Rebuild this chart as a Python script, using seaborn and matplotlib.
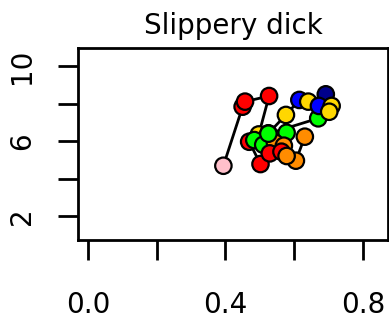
import matplotlib
matplotlib.use("Agg")
import matplotlib.pyplot as plt
import seaborn as sns
import pandas as pd

# Data
pt_x = [0.394, 0.450, 0.457, 0.527, 0.497, 0.502, 0.469, 0.525, 0.576, 0.615,
        0.670, 0.631, 0.605, 0.641, 0.692, 0.672, 0.709, 0.702, 0.578, 0.484,
        0.510, 0.544, 0.570, 0.529, 0.563, 0.578, 0.525]
pt_y = [4.68, 7.83, 8.10, 8.40, 6.35, 4.77, 5.96, 6.41, 7.39, 8.19,
        7.21, 6.23, 4.95, 8.10, 8.49, 7.87, 7.87, 7.56, 6.44, 6.05,
        5.80, 5.91, 5.75, 5.34, 5.43, 5.20, 6.39]
pt_col = ["pink", "red", "red", "red", "gold", "red", "red", "green", "gold", "blue",
          "green", "orange", "orange", "gold", "navy", "blue", "gold", "gold", "green", "green",
          "green", "orange", "orange", "red", "red", "orange", "green"]
pt_group = ["A", "A", "B", "B", "B", "C", "C", "D", "D", "D",
            "E", "F", "F", "-", "-", "-", "-", "-", "-", "-",
            "-", "-", "-", "-", "-", "-", "E"]

x_ticks = [0.0, 0.2, 0.4, 0.6, 0.8]
x_labels = ["0.0", "", "0.4", "", "0.8"]
y_ticks = [2, 4, 6, 8, 10]
y_labels = ["2", "", "6", "", "10"]
title = "Slippery dick"

palette = {"pink": "#FFC0CB", "red": "#FF0000", "gold": "#FFD700", "green": "#00FF00",
           "blue": "#0000FF", "navy": "#00008B", "orange": "#FF8C00"}

df = pd.DataFrame({"x": pt_x, "y": pt_y, "col": pt_col, "grp": pt_group,
                   "order": range(len(pt_x))})
lines = df[df["grp"] != "-"]

sns.set_style("white")
plt.rcParams["font.family"] = ["DejaVu Sans"]

fig = plt.figure(figsize=(3.89, 3.18), dpi=100)
ax = fig.add_axes([78 / 389, 78 / 318, 310 / 389, 192 / 318])

sns.lineplot(data=lines, x="x", y="y", units="grp", estimator=None, sort=False,
             color="black", linewidth=2.0, ax=ax, zorder=1)
sns.scatterplot(data=df, x="x", y="y", hue="col", palette=palette, s=140,
                edgecolor="black", linewidth=1.6, legend=False, ax=ax, zorder=2)

ax.set_xlim(-0.029, 0.873)
ax.set_ylim(0.72, 10.96)
ax.set_xticks(x_ticks)
ax.set_xticklabels(x_labels)
ax.set_yticks(y_ticks)
ax.set_yticklabels(y_labels, rotation=90, va="center")
ax.tick_params(axis="both", which="major", direction="out", length=14.5, width=2.0,
               color="black", labelsize=20, labelcolor="black")
ax.tick_params(axis="x", pad=22, bottom=True)
ax.tick_params(axis="y", pad=16, left=True)
ax.set_xlabel("")
ax.set_ylabel("")
for s in ax.spines.values():
    s.set_visible(True)
    s.set_color("black")
    s.set_linewidth(2.0)
ax.set_title(title, fontsize=20, pad=10, color="black")

fig.savefig("out.png", dpi=100)
